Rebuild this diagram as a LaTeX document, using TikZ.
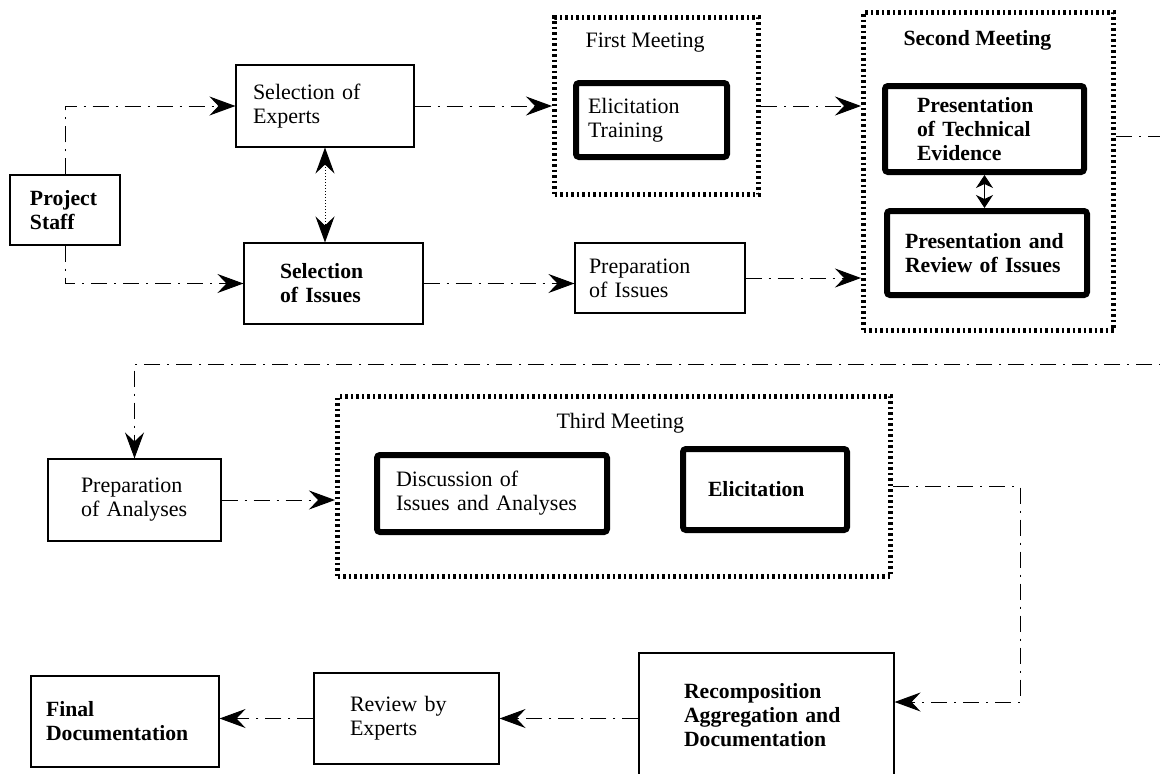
\documentclass[tikz,border=0pt]{standalone}
\usepackage{fontspec}
\setmainfont{Liberation Serif}
\usetikzlibrary{arrows.meta}
\newcommand\regtxt{\fontsize{22}{24}\selectfont}
\newcommand\boldtxt{\fontsize{21.7}{24}\selectfont\bfseries}

\begin{document}
\begin{tikzpicture}[x=1pt, y=-1pt,
		>={Stealth[length=26pt,width=19pt,inset=9pt]},
		regtext/.style={font=\regtxt},
		boldtext/.style={font=\boldtxt},
		plain/.style={draw, line width=1.1pt, align=left, inner sep=0pt},
		heavy/.style={draw, line width=6pt, rounded corners=3pt, align=left, inner sep=0pt},
		meeting/.style={draw, line width=5pt, dash pattern=on 2.5pt off 3pt},
		flow/.style={->, line width=1pt, dash pattern=on 16pt off 7pt on 2pt off 7pt},
		link/.style={<->, line width=1pt, dotted}]
		\clip (0,0) rectangle (1160,774);
		% meetings
		\node[meeting, minimum width=204, minimum height=177] (first) at (656.5,106) {};
		\node[meeting, minimum width=250, minimum height=318] (second) at (988.5,171.5) {};
		\node[meeting, minimum width=553, minimum height=180] (third) at (614,486.5) {};
		\node[regtext, anchor=west] (firstt) at (582,43) {First Meeting};
		\node[boldtext, anchor=west] (secondt) at (900,40) {Second Meeting};
		\node[regtext, anchor=west] (thirdt) at (553,423) {Third Meeting};
		% steps
		\node[plain, boldtext, minimum width=110, minimum height=70, text width=70] (staff) at (65,210) {Project\\Staff};
		\node[plain, regtext, minimum width=178, minimum height=82, text width=144] (selexp) at (325,106) {Selection of\\Experts};
		\node[plain, boldtext, minimum width=179, minimum height=81, text width=107] (seliss) at (333.5,283.5) {Selection\\of Issues};
		\node[heavy, regtext, minimum width=151, minimum height=74, text width=127] (train) at (651.5,120) {Elicitation\\Training};
		\node[plain, regtext, minimum width=170, minimum height=70, text width=142] (prepiss) at (660,278) {Preparation\\of Issues};
		\node[heavy, boldtext, minimum width=199, minimum height=86, text width=135] (prestech) at (984.5,129) {Presentation\\of Technical\\Evidence};
		\node[heavy, boldtext, minimum width=200, minimum height=84, text width=164] (presrev) at (987,253) {Presentation and\\Review of Issues};
		\node[plain, regtext, minimum width=173, minimum height=82, text width=107] (prepana) at (134.5,500) {Preparation\\of Analyses};
		\node[heavy, regtext, minimum width=230, minimum height=77, text width=192] (discuss) at (492,493.5) {Discussion of\\Issues and Analyses};
		\node[heavy, boldtext, minimum width=164, minimum height=81, text width=114] (elicit) at (765,489.5) {Elicitation};
		\node[plain, boldtext, minimum width=255, minimum height=147, text width=165] (recomp) at (766.5,726.5) {Recomposition\\Aggregation and\\Documentation\\ \mbox{}};
		\node[plain, regtext, minimum width=185, minimum height=91, text width=113] (revexp) at (406.5,718.5) {Review by\\Experts};
		\node[plain, boldtext, minimum width=188, minimum height=91, text width=158] (finaldoc) at (125,721.5) {Final\\Documentation};
		% bends
		\coordinate (rt1) at (1180,136);
		\coordinate (rt2) at (1180,364);
		\coordinate (bend) at (1020,702);
		% connectors
		\draw[flow] (staff.north) |- (selexp.west);
		\draw[flow] (staff.south) |- (seliss.west);
		\draw[link] (selexp.south) -- (selexp.south |- seliss.north);
		\draw[flow] (selexp.east) -- (first.west);
		\draw[flow] (seliss.east) -- (seliss.east -| prepiss.west);
		\draw[flow] (first.east) -- (first.east -| second.west);
		\draw[flow] (prepiss.east) -- (prepiss.east -| second.west);
		\draw[<->, >={Stealth[length=13pt,width=17pt,inset=4pt]}, line width=1pt] (prestech.south) -- (prestech.south |- presrev.north);
		\draw[flow] (second.east |- rt1) -- (rt1) -- (rt2) -| (prepana.north);
		\draw[flow] (prepana.east) -- (prepana.east -| third.west);
		\draw[flow] (third.east) -| (bend) -- (bend -| recomp.east);
		\draw[flow] (revexp.east -| recomp.west) -- (revexp.east);
		\draw[flow] (revexp.west) -- (revexp.west -| finaldoc.east);
	\end{tikzpicture}
\end{document}
